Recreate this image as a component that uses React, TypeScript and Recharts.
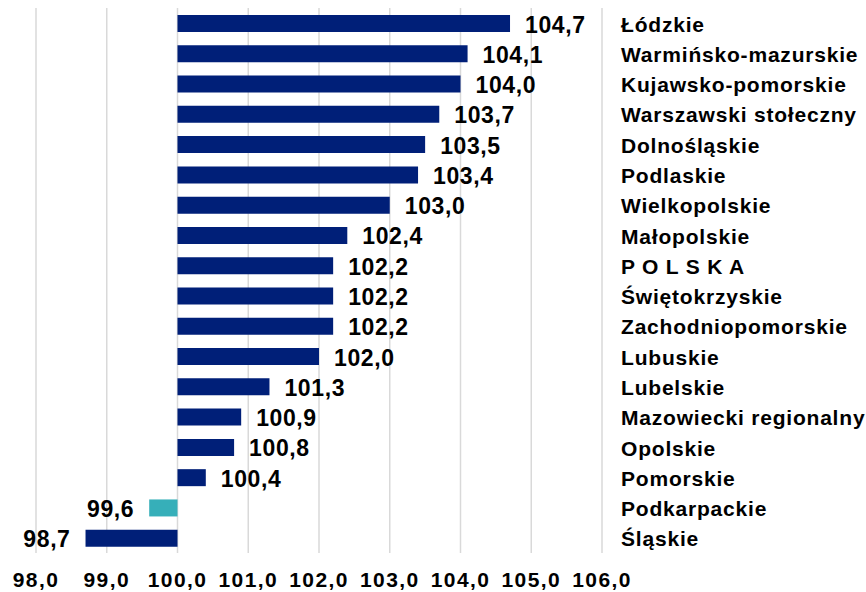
import React from "react";
import { BarChart, Bar, XAxis, YAxis, CartesianGrid, LabelList, Cell } from "recharts";

const regions = [
  "Łódzkie",
  "Warmińsko-mazurskie",
  "Kujawsko-pomorskie",
  "Warszawski stołeczny",
  "Dolnośląskie",
  "Podlaskie",
  "Wielkopolskie",
  "Małopolskie",
  "P O L S K A",
  "Świętokrzyskie",
  "Zachodniopomorskie",
  "Lubuskie",
  "Lubelskie",
  "Mazowiecki regionalny",
  "Opolskie",
  "Pomorskie",
  "Podkarpackie",
  "Śląskie",
];
const values = [104.7, 104.1, 104.0, 103.7, 103.5, 103.4, 103.0, 102.4, 102.2, 102.2, 102.2, 102.0, 101.3, 100.9, 100.8, 100.4, 99.6, 98.7];
const highlighted = ["Podkarpackie"];
const xTicks = [98, 99, 100, 101, 102, 103, 104, 105, 106];
const baseValue = 100;

const NAVY = "#001f78";
const TEAL = "#36afb9";
const FONT = "'Liberation Sans', Arial, sans-serif";

const data = regions.map((name, i) => ({ name, value: values[i] }));

const fmt = (v: number) => v.toFixed(1).replace(".", ",");

const XTick = (props: any) => {
  const { x, y, payload } = props;
  return (
    <text x={x} y={y + 34} textAnchor="middle" fontFamily={FONT} fontWeight={700} fontSize={21} letterSpacing={1.4} fill="#000">
      {fmt(payload.value)}
    </text>
  );
};

const YTick = (props: any) => {
  const { x, y, payload } = props;
  return (
    <text x={x} y={y} dy={1} textAnchor="start" dominantBaseline="central" fontFamily={FONT} fontWeight={700} fontSize={21} letterSpacing={0.8} fill="#000">
      {payload.value}
    </text>
  );
};

const ValueLabel = (props: any) => {
  const { x, y, width, height, index } = props;
  const v = values[index];
  const left = Math.min(x, x + width);
  const right = Math.max(x, x + width);
  const cy = y + height / 2 + 1;
  const pos = v >= baseValue;
  return (
    <text
      x={pos ? right + 15 : left - 15}
      y={cy}
      textAnchor={pos ? "start" : "end"}
      dominantBaseline="central"
      fontFamily={FONT}
      fontWeight={700}
      fontSize={23}
      letterSpacing={0.6}
      fill="#000"
    >
      {fmt(v)}
    </text>
  );
};

export default function App() {
  return (
    <div style={{ position: "absolute", left: 0, top: 0, width: 866, height: 592, background: "#fff" }}>
      <BarChart
        width={866}
        height={592}
        data={data}
        layout="vertical"
        margin={{ top: 8, right: 0, left: 36, bottom: 9 }}
      >
        <CartesianGrid horizontal={false} vertical={true} stroke="#d9d9d9" strokeWidth={1.5} />
        <XAxis
          type="number"
          domain={[98, 106]}
          ticks={xTicks}
          interval={0}
          axisLine={false}
          tickLine={false}
          tickSize={0}
          tickMargin={0}
          height={30}
          tick={<XTick />}
          allowDataOverflow
        />
        <YAxis
          type="category"
          dataKey="name"
          orientation="right"
          width={264}
          axisLine={false}
          tickLine={false}
          tickSize={0}
          tickMargin={19}
          interval={0}
          tick={<YTick />}
        />
        <Bar dataKey={(d: any) => [baseValue, d.value]} barSize={17} isAnimationActive={false}>
          {data.map((d, i) => (
            <Cell key={i} fill={highlighted.includes(d.name) ? TEAL : NAVY} />
          ))}
          <LabelList dataKey="value" content={<ValueLabel />} />
        </Bar>
      </BarChart>
    </div>
  );
}
